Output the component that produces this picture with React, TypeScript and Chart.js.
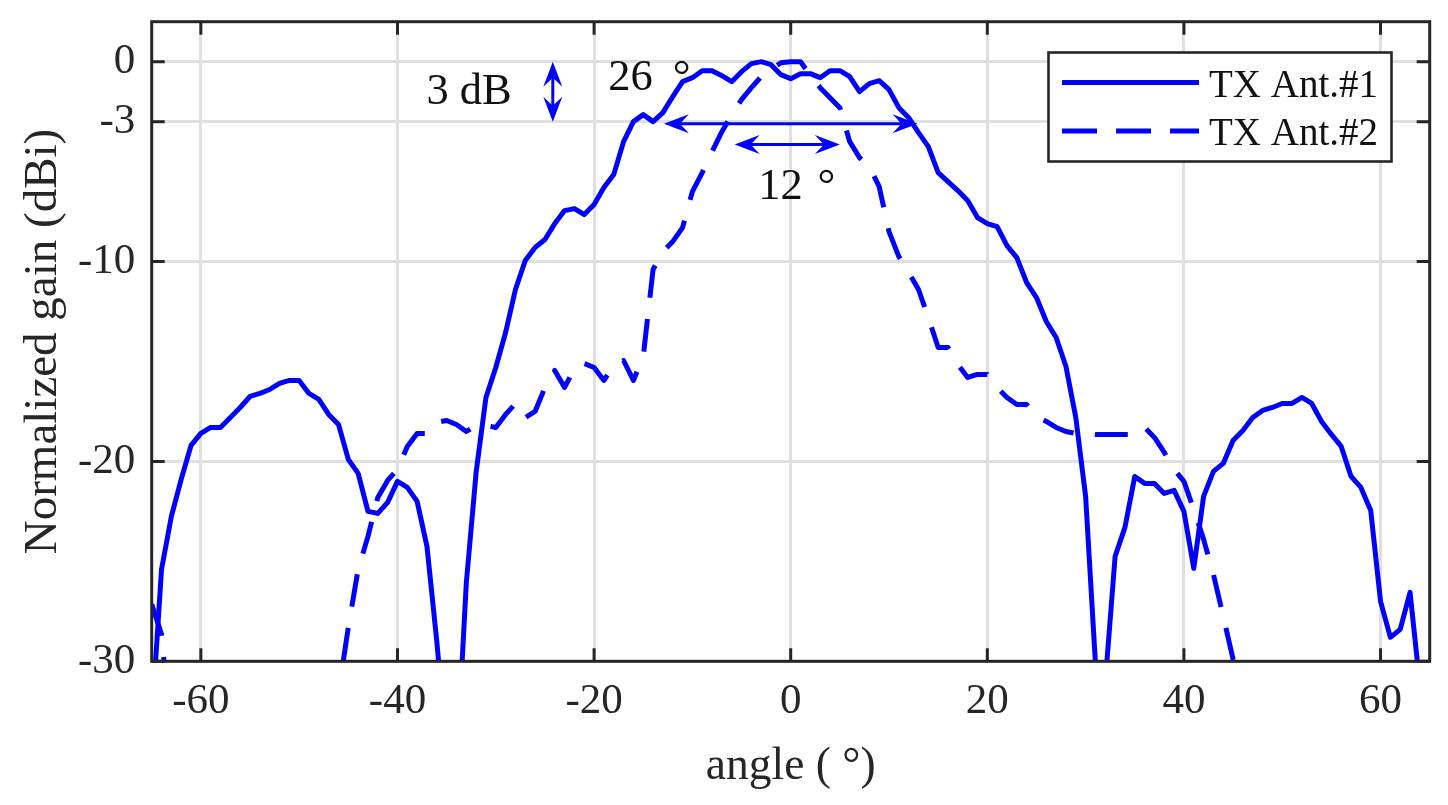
import { useEffect, useRef } from 'react'
import { Chart, registerables } from 'chart.js'

Chart.register(...registerables)

const FONT = '"Liberation Serif", "Times New Roman", serif'
const DARK = '#262626'
const BLUE = '#0000ff'

const angles = [
  -65, -64, -63, -62, -61, -60, -59, -58, -57, -56, -55, -54, -53, -52, -51, -50, -49, -48, -47, -46,
  -45, -44, -43, -42, -41, -40, -39, -38, -37, -36, -35, -34, -33, -32, -31, -30, -29, -28, -27, -26,
  -25, -24, -23, -22, -21, -20, -19, -18, -17, -16, -15, -14, -13, -12, -11, -10, -9, -8, -7, -6,
  -5, -4, -3, -2, -1, 0, 1, 2, 3, 4, 5, 6, 7, 8, 9, 10, 11, 12, 13, 14,
  15, 16, 17, 18, 19, 20, 21, 22, 23, 24, 25, 26, 27, 28, 29, 30, 31, 32, 33, 34,
  35, 36, 37, 38, 39, 40, 41, 42, 43, 44, 45, 46, 47, 48, 49, 50, 51, 52, 53, 54,
  55, 56, 57, 58, 59, 60, 61, 62, 63, 64, 65,
]

// values below -30 fall outside the axes and only set where the line leaves the box
const ant1 = [
  -33, -25.4, -22.75, -20.9, -19.2, -18.6, -18.3, -18.3, -17.8, -17.3, -16.75, -16.6, -16.4, -16.1, -15.95, -15.95, -16.6, -16.9, -17.65, -18.15,
  -19.9, -20.6, -22.5, -22.6, -22.05, -21, -21.3, -22, -24.25, -29, -34.5, -35.4, -26.1, -20.55, -16.8, -15.3, -13.55, -11.4, -9.95, -9.3,
  -8.9, -8.1, -7.45, -7.35, -7.65, -7.15, -6.3, -5.65, -4, -3, -2.65, -3, -2.55, -1.75, -1, -0.8, -0.45, -0.45, -0.7, -1,
  -0.5, -0.1, 0, -0.15, -0.65, -0.85, -0.6, -0.6, -0.8, -0.45, -0.45, -0.75, -1.5, -1.1, -0.95, -1.4, -2.3, -2.8, -3.55, -4.25,
  -5.55, -6, -6.45, -6.95, -7.8, -8.1, -8.25, -9.2, -9.8, -11.05, -11.8, -13, -13.8, -15.25, -17.8, -21.75, -30.1, -31.05, -24.75, -23.3,
  -20.75, -21.1, -21.1, -21.6, -21.45, -22.5, -25.35, -21.75, -20.5, -20.1, -18.95, -18.45, -17.8, -17.45, -17.3, -17.1, -17.1, -16.8, -17.1, -18,
  -18.65, -19.25, -20.75, -21.3, -22.45, -27, -28.8, -28.4, -26.55, -31.2, -36,
]

const ant2 = [
  -27.15, -28.65, -34, null, null, null, null, null, null, null, null, null, null, null, null, null, null, null, null, -31.6,
  -28.3, -25.4, -23.75, -21.8, -20.95, -20.4, -19.25, -18.6, -18.6, -18.05, -17.95, -18.15, -18.5, -18.2, -18.2, -18.3, -17.65, -17.1, -17.8, -17.5,
  -16.3, -15.45, -16.3, -15.35, -15.1, -15.3, -15.95, -15.2, -14.95, -15.95, -14.75, -10.4, -9.5, -9, -8.3, -6.5, -5.55, -4.5, -3.5, -2.65,
  -1.9, -1.3, -0.75, -0.4, -0.05, 0, 0, -0.7, -1.3, -1.8, -2.3, -4, -4.8, -5.25, -6.25, -8.5, -9.75, -10.55, -11.4, -12.8,
  -14.3, -14.3, -15.15, -15.8, -15.65, -15.65, -16.3, -16.8, -17.15, -17.15, -17.75, -18, -18.3, -18.5, -18.6, -18.6, -18.65, -18.65, -18.65, -18.65,
  -18.65, -18.3, -18.8, -19.55, -20.4, -21, -22.4, -23.9, -25.65, -27.75, -29.9, -33.5, null, null, null, null, null, null, null, null,
  null, null, null, null, null, null, null, null, null, null, null,
]

const seriesNames = ['TX Ant.#1', 'TX Ant.#2']
const xTicks = [-60, -40, -20, 0, 20, 40, 60]
const yTicks = [0, -3, -10, -20, -30]

// annotations, in data units: [from angle, from dB, to angle, to dB]
const arrows = [
  [-24.2, 0, -24.2, -3],
  [-12.9, -3.1, 12.9, -3.1],
  [-5.7, -4.15, 5, -4.15],
]
const notes: [string, number, number][] = [
  ['3 dB', -37.05, -2.1],
  ['26 \u2009\u00b0', -18.55, -1.4],
  ['12 \u200a\u00b0', -3.3, -6.85],
]

function drawArrowHead(ctx: CanvasRenderingContext2D, x: number, y: number, dx: number, dy: number) {
  const len = 25
  const half = 9.5
  const notch = 16
  ctx.beginPath()
  ctx.moveTo(x, y)
  ctx.lineTo(x - dx * len - dy * half, y - dy * len + dx * half)
  ctx.lineTo(x - dx * notch, y - dy * notch)
  ctx.lineTo(x - dx * len + dy * half, y - dy * len - dx * half)
  ctx.closePath()
  ctx.fill()
}

const framePlugin = {
  id: 'frame',
  afterDatasetsDraw(chart: any) {
    const { ctx, chartArea: a, scales } = chart
    const { x, y } = scales
    ctx.save()

    // inward ticks on all four sides
    ctx.strokeStyle = DARK
    ctx.lineWidth = 3
    ctx.beginPath()
    xTicks.forEach((t) => {
      const px = x.getPixelForValue(t)
      ctx.moveTo(px, a.top)
      ctx.lineTo(px, a.top + 13)
      ctx.moveTo(px, a.bottom)
      ctx.lineTo(px, a.bottom - 13)
    })
    yTicks.forEach((t) => {
      const py = y.getPixelForValue(t)
      ctx.moveTo(a.left, py)
      ctx.lineTo(a.left + 13, py)
      ctx.moveTo(a.right, py)
      ctx.lineTo(a.right - 13, py)
    })
    ctx.stroke()
    ctx.strokeRect(a.left, a.top, a.right - a.left, a.bottom - a.top)

    // arrows
    ctx.strokeStyle = BLUE
    ctx.fillStyle = BLUE
    ctx.lineWidth = 3
    arrows.forEach(([a1, d1, a2, d2]) => {
      const x1 = x.getPixelForValue(a1)
      const y1 = y.getPixelForValue(d1)
      const x2 = x.getPixelForValue(a2)
      const y2 = y.getPixelForValue(d2)
      const l = Math.hypot(x2 - x1, y2 - y1)
      const dx = (x2 - x1) / l
      const dy = (y2 - y1) / l
      ctx.beginPath()
      ctx.moveTo(x1 + dx * 10, y1 + dy * 10)
      ctx.lineTo(x2 - dx * 10, y2 - dy * 10)
      ctx.stroke()
      drawArrowHead(ctx, x1, y1, -dx, -dy)
      drawArrowHead(ctx, x2, y2, dx, dy)
    })

    // notes
    ctx.fillStyle = '#111111'
    ctx.font = `44.5px ${FONT}`
    ctx.textAlign = 'left'
    ctx.textBaseline = 'alphabetic'
    notes.forEach(([text, ang, db]) => {
      ctx.fillText(text, x.getPixelForValue(ang), y.getPixelForValue(db))
    })

    // legend box
    const bx = 1048.5
    const by = 52.5
    ctx.fillStyle = '#ffffff'
    ctx.fillRect(bx, by, 343, 109)
    ctx.strokeStyle = DARK
    ctx.lineWidth = 2.6
    ctx.strokeRect(bx, by, 343, 109)
    seriesNames.forEach((name, i) => {
      const ly = 82.5 + i * 48.5
      ctx.strokeStyle = BLUE
      ctx.lineWidth = 5
      ctx.setLineDash(i === 1 ? [35, 19] : [])
      ctx.beginPath()
      ctx.moveTo(1062, ly)
      ctx.lineTo(1199, ly)
      ctx.stroke()
      ctx.setLineDash([])
      ctx.fillStyle = '#111111'
      ctx.font = `39px ${FONT}`
      ctx.textBaseline = 'alphabetic'
      ctx.fillText(name, 1209, ly + 14)
    })
    ctx.restore()
  },
}

export default function App() {
  const canvasRef = useRef<HTMLCanvasElement>(null)

  useEffect(() => {
    document.body.style.margin = '0'
    if (!canvasRef.current) return
    const chart = new Chart(canvasRef.current, {
      type: 'line',
      data: {
        labels: angles,
        datasets: [
          {
            label: seriesNames[0],
            data: angles.map((a, i) => ({ x: a, y: ant1[i] })),
            borderColor: BLUE,
            borderWidth: 5,
            pointRadius: 0,
            tension: 0,
            clip: 0,
            borderJoinStyle: 'round',
          },
          {
            label: seriesNames[1],
            data: angles.map((a, i) => ({ x: a, y: ant2[i] })) as any,
            borderColor: BLUE,
            borderWidth: 5,
            pointRadius: 0,
            tension: 0,
            clip: 0,
            borderDash: [32.9, 21.4],
            borderJoinStyle: 'round',
            segment: {
              borderDashOffset: (ctx: any) => (ctx.p0DataIndex > 10 ? 21 : 0),
            },
          },
        ],
      },
      options: {
        responsive: false,
        animation: false,
        parsing: false,
        normalized: true,
        layout: { padding: { left: 0, top: 21.7, right: 18.3, bottom: 0 } },
        plugins: { legend: { display: false }, tooltip: { enabled: false } },
        scales: {
          x: {
            type: 'linear',
            min: -65,
            max: 65,
            afterBuildTicks: (axis: any) => {
              axis.ticks = xTicks.map((value) => ({ value }))
            },
            afterFit: (axis: any) => {
              axis.height = 143.7
              axis.paddingLeft = 0
              axis.paddingRight = 0
            },
            border: { display: false },
            grid: { color: '#dfdfdf', lineWidth: 3, drawTicks: false },
            ticks: { color: DARK, font: { family: FONT, size: 43 }, padding: 15, maxRotation: 0, autoSkip: false },
            title: { display: true, text: 'angle ( \u00b0)', color: DARK, font: { family: FONT, size: 45.5 }, padding: { top: 0, bottom: 10.5 } },
          },
          y: {
            type: 'linear',
            min: -30,
            max: 2,
            afterBuildTicks: (axis: any) => {
              axis.ticks = yTicks.map((value) => ({ value }))
            },
            afterFit: (axis: any) => {
              axis.width = 151.7
              axis.paddingTop = 0
              axis.paddingBottom = 0
            },
            border: { display: false },
            grid: { color: '#dfdfdf', lineWidth: 3, drawTicks: false },
            ticks: { color: DARK, font: { family: FONT, size: 43 }, padding: 16.5, autoSkip: false },
            title: { display: true, text: 'Normalized gain (dBi)', color: DARK, font: { family: FONT, size: 47 }, padding: { top: 15, bottom: 0 } },
          },
        },
      },
      plugins: [framePlugin],
    } as any)
    return () => chart.destroy()
  }, [])

  return <canvas ref={canvasRef} width={1448} height={805} style={{ display: 'block' }} />
}
